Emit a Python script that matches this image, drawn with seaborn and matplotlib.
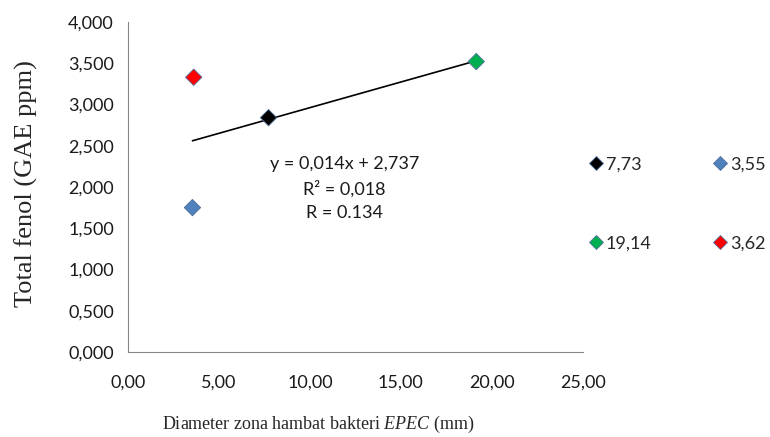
"""Scatter of total phenol vs EPEC inhibition zone diameter, with trend line."""

import matplotlib

matplotlib.use("Agg")
import matplotlib.pyplot as plt
from matplotlib.ticker import FuncFormatter
import pandas as pd
import seaborn as sns

# data
diameters = [7.73, 3.55, 19.14, 3.62]
phenols = [2.84, 1.75, 3.52, 3.33]
labels = ["7,73", "3,55", "19,14", "3,62"]
colors = ["#000000", "#4F81BD", "#00B050", "#FF0000"]
legend_order = ["7,73", "19,14", "3,55", "3,62"]

trend_x = [3.55, 19.14]
trend_y = [2.56, 3.53]

equation_lines = ["y = 0,014x + 2,737", "R² = 0,018", "R = 0.134"]

df = pd.DataFrame({"diameter": diameters, "phenol": phenols, "label": labels})

sns.set_style("white")
plt.rcParams["font.family"] = ["Lato", "DejaVu Sans"]
plt.rcParams["mathtext.fontset"] = "custom"
plt.rcParams["mathtext.rm"] = "Liberation Serif"
plt.rcParams["mathtext.it"] = "Liberation Serif:italic"

fig = plt.figure(figsize=(7.7, 4.37), dpi=100)
ax = fig.add_axes([0.166, 0.1945, 0.591, 0.7552])

ax.plot(trend_x, trend_y, color="black", linewidth=1.2, zorder=2)
sns.scatterplot(
    data=df,
    x="diameter",
    y="phenol",
    hue="label",
    hue_order=labels,
    palette=colors,
    marker="D",
    s=70,
    edgecolor="#4F6E9A",
    linewidth=0.6,
    ax=ax,
    zorder=3,
)

ax.set_xlim(0, 25)
ax.set_ylim(0, 4)
ax.set_xticks([0, 5, 10, 15, 20, 25])
ax.set_yticks([i * 0.5 for i in range(9)])
ax.xaxis.set_major_formatter(FuncFormatter(lambda v, _: f"{v:.2f}".replace(".", ",")))
ax.yaxis.set_major_formatter(FuncFormatter(lambda v, _: f"{v:.3f}".replace(".", ",")))
ax.tick_params(axis="both", direction="out", length=5, width=0.8, color="#868686",
               labelsize=13, labelcolor="#1a1a1a", pad=5)
ax.tick_params(axis="x", pad=11)
for side in ["top", "right"]:
    ax.spines[side].set_visible(False)
for side in ["left", "bottom"]:
    ax.spines[side].set_color("#868686")
    ax.spines[side].set_linewidth(0.8)

ax.set_xlabel("")
ax.set_ylabel("")
fig.text(0.034, 0.581, "Total fenol (GAE ppm)", rotation=90, ha="center", va="center",
         fontsize=19, family="Liberation Serif")
fig.text(0.413, 0.018, r"Diameter zona hambat bakteri $\mathit{EPEC}$ (mm)",
         ha="center", va="baseline", fontsize=13, family="Liberation Serif")

ax.text(11.9, 1.98, "\n".join(equation_lines), ha="center", va="center",
        fontsize=13, linespacing=1.55, color="#1a1a1a")

handles, names = ax.get_legend_handles_labels()
lookup = dict(zip(names, handles))
ax.legend(
    [lookup[n] for n in legend_order],
    legend_order,
    ncol=2,
    loc="center left",
    bbox_to_anchor=(0.741, 0.533),
    bbox_transform=fig.transFigure,
    frameon=False,
    fontsize=13,
    labelspacing=3.5,
    columnspacing=3.3,
    handletextpad=0.05,
    handlelength=1.0,
    markerscale=0.85,
)

fig.savefig("out.png", dpi=100)
plt.close(fig)
